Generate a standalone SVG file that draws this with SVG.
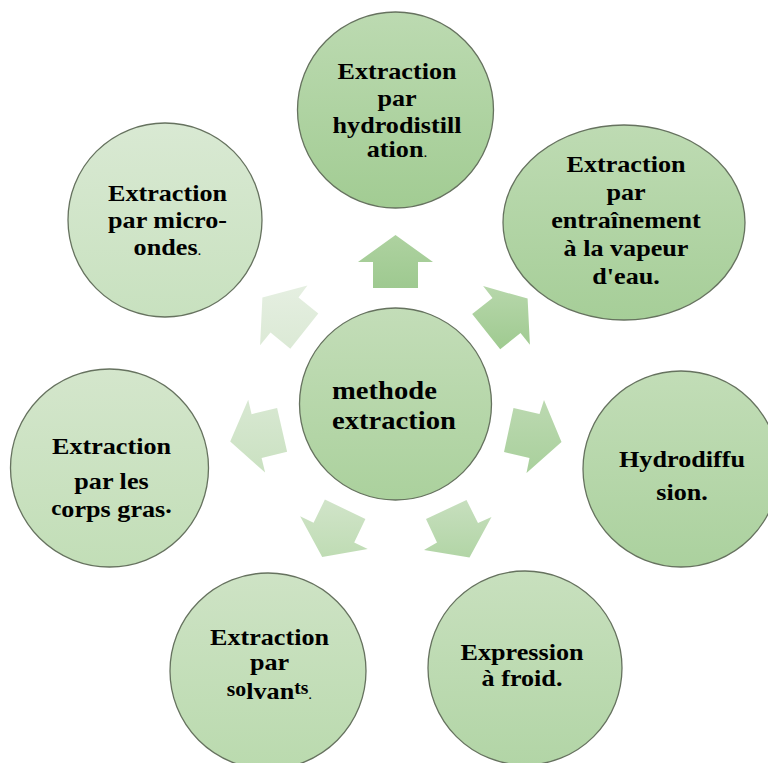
<svg xmlns="http://www.w3.org/2000/svg" width="768" height="763" viewBox="0 0 768 763">
<defs>
<style>
.node{stroke:#66725f;stroke-width:1.3}
.t{font-family:"Liberation Serif","Times New Roman",serif;font-weight:bold;font-size:24px;fill:#000000;text-anchor:middle}
.c{font-size:26px;text-anchor:start}
.sm{font-weight:normal;font-size:14px}
</style>
<linearGradient id="gc" x1="0" y1="0" x2="0" y2="1"><stop offset="0" stop-color="#c3ddb8"/><stop offset="1" stop-color="#abd19d"/></linearGradient>
<linearGradient id="g0" x1="0" y1="0" x2="0" y2="1"><stop offset="0" stop-color="#bcdab1"/><stop offset="1" stop-color="#a2cc93"/></linearGradient>
<linearGradient id="g1" x1="0" y1="0" x2="0" y2="1"><stop offset="0" stop-color="#bedbb3"/><stop offset="1" stop-color="#a6ce98"/></linearGradient>
<linearGradient id="g2" x1="0" y1="0" x2="0" y2="1"><stop offset="0" stop-color="#c2ddb7"/><stop offset="1" stop-color="#abd19e"/></linearGradient>
<linearGradient id="g3" x1="0" y1="0" x2="0" y2="1"><stop offset="0" stop-color="#c8e0be"/><stop offset="1" stop-color="#b2d5a6"/></linearGradient>
<linearGradient id="g4" x1="0" y1="0" x2="0" y2="1"><stop offset="0" stop-color="#cee3c5"/><stop offset="1" stop-color="#badaae"/></linearGradient>
<linearGradient id="g5" x1="0" y1="0" x2="0" y2="1"><stop offset="0" stop-color="#d4e6cc"/><stop offset="1" stop-color="#c2deb7"/></linearGradient>
<linearGradient id="g6" x1="0" y1="0" x2="0" y2="1"><stop offset="0" stop-color="#d9e9d3"/><stop offset="1" stop-color="#c8e1bf"/></linearGradient>
<linearGradient id="a0" x1="0" y1="0" x2="0" y2="1"><stop offset="0" stop-color="#aed2a0"/><stop offset="1" stop-color="#9ec990"/></linearGradient>
<linearGradient id="a1" x1="0" y1="0" x2="0" y2="1"><stop offset="0" stop-color="#b7d7ab"/><stop offset="1" stop-color="#9fca90"/></linearGradient>
<linearGradient id="a2" x1="0" y1="0" x2="0" y2="1"><stop offset="0" stop-color="#bcd9b1"/><stop offset="1" stop-color="#a9d09c"/></linearGradient>
<linearGradient id="a3" x1="0" y1="0" x2="0" y2="1"><stop offset="0" stop-color="#c7dfbe"/><stop offset="1" stop-color="#b2d5a6"/></linearGradient>
<linearGradient id="a4" x1="0" y1="0" x2="0" y2="1"><stop offset="0" stop-color="#d1e4c9"/><stop offset="1" stop-color="#bfdcb4"/></linearGradient>
<linearGradient id="a5" x1="0" y1="0" x2="0" y2="1"><stop offset="0" stop-color="#d8e8d2"/><stop offset="1" stop-color="#cae1c1"/></linearGradient>
<linearGradient id="a6" x1="0" y1="0" x2="0" y2="1"><stop offset="0" stop-color="#e5efe1"/><stop offset="1" stop-color="#dbe9d5"/></linearGradient>
</defs>
<rect width="768" height="763" fill="#ffffff"/>

<g id="connectors">
<polygon fill="url(#a0)" points="395.5,235 433,262 418,262 418,288 373,288 373,262 358,262"/>
<polygon fill="url(#a1)" points="527.6,298.6 529.9,344.8 520.5,333.1 500.2,349.3 472.2,314.1 492.5,297.9 483.1,286.1"/>
<polygon fill="url(#a2)" points="561.5,442 526.5,473 529.5,458 504,452 513.5,408 539.5,414 544,400"/>
<polygon fill="url(#a3)" points="469.5,557.5 424,550 437,542.5 426,519 466.5,500 478,523 491.5,517"/>
<polygon fill="url(#a4)" points="322.2,557 300.1,516.2 313.6,522.7 324.9,499.5 365.4,519 354.2,542.4 367.7,548.9"/>
<polygon fill="url(#a5)" points="230.2,441.6 248.2,399.8 251.6,414.2 277.1,407.9 287.1,451.7 261.6,458 265.1,472.6"/>
<polygon fill="url(#a6)" points="262.4,297.6 307.4,285.4 298.5,297.4 318.3,313.6 290.3,348.8 270.5,332.6 260.1,345.3"/>
</g>

<g id="center">
<circle class="node" cx="395.5" cy="404" r="96" fill="url(#gc)"/>
<g transform="translate(332 0) scale(1.1 1)">
<text class="t c" x="0" y="399">methode</text>
<text class="t c" x="0" y="429">extraction</text>
</g>
</g>

<g id="n-hydrodistillation">
<circle class="node" cx="395.5" cy="110" r="98" fill="url(#g0)"/>
<g transform="translate(397 0) scale(1.09 1)">
<text class="t" x="0" y="79">Extraction</text>
<text class="t" x="0" y="106">par</text>
<text class="t" x="0" y="133">hydrodistill</text>
<text class="t" x="0" y="157">ation<tspan class="sm">.</tspan></text>
</g>
</g>

<g id="n-vapeur">
<ellipse class="node" cx="624" cy="222.5" rx="121" ry="97.5" fill="url(#g1)"/>
<g transform="translate(626 0) scale(1.09 1)">
<text class="t" x="0" y="172">Extraction</text>
<text class="t" x="0" y="200">par</text>
<text class="t" x="0" y="228">entraînement</text>
<text class="t" x="0" y="256">à la vapeur</text>
<text class="t" x="0" y="284">d'eau.</text>
</g>
</g>

<g id="n-hydrodiffusion">
<circle class="node" cx="681" cy="469" r="98" fill="url(#g2)"/>
<g transform="translate(682 0) scale(1.09 1)">
<text class="t" x="0" y="467">Hydrodiffu</text>
<text class="t" x="0" y="500">sion.</text>
</g>
</g>

<g id="n-expression">
<circle class="node" cx="525" cy="668" r="97" fill="url(#g3)"/>
<g transform="translate(522 0) scale(1.09 1)">
<text class="t" x="0" y="660">Expression</text>
<text class="t" x="0" y="686">à froid.</text>
</g>
</g>

<g id="n-solvants">
<circle class="node" cx="268" cy="671" r="98" fill="url(#g4)"/>
<g transform="translate(269.5 0) scale(1.09 1)">
<text class="t" x="0" y="645">Extraction</text>
<text class="t" x="0" y="670">par</text>
<text class="t" x="0" y="699"><tspan font-size="20" dy="-3">so</tspan><tspan dy="3">lvan</tspan><tspan font-size="18" dy="-5">ts</tspan><tspan class="sm" dy="5">.</tspan></text>
</g>
</g>

<g id="n-corps-gras">
<circle class="node" cx="109.5" cy="468" r="99" fill="url(#g5)"/>
<g transform="translate(111.5 0) scale(1.09 1)">
<text class="t" x="0" y="454">Extraction</text>
<text class="t" x="0" y="489">par les</text>
<text class="t" x="0" y="517"><tspan font-size="21" dy="-2">c</tspan><tspan dy="2">orps gras</tspan><tspan dy="-4">.</tspan></text>
</g>
</g>

<g id="n-micro-ondes">
<circle class="node" cx="165" cy="220" r="97" fill="url(#g6)"/>
<g transform="translate(167.5 0) scale(1.09 1)">
<text class="t" x="0" y="201">Extraction</text>
<text class="t" x="0" y="228">par micro-</text>
<text class="t" x="0" y="255">ondes<tspan class="sm">.</tspan></text>
</g>
</g>
</svg>
